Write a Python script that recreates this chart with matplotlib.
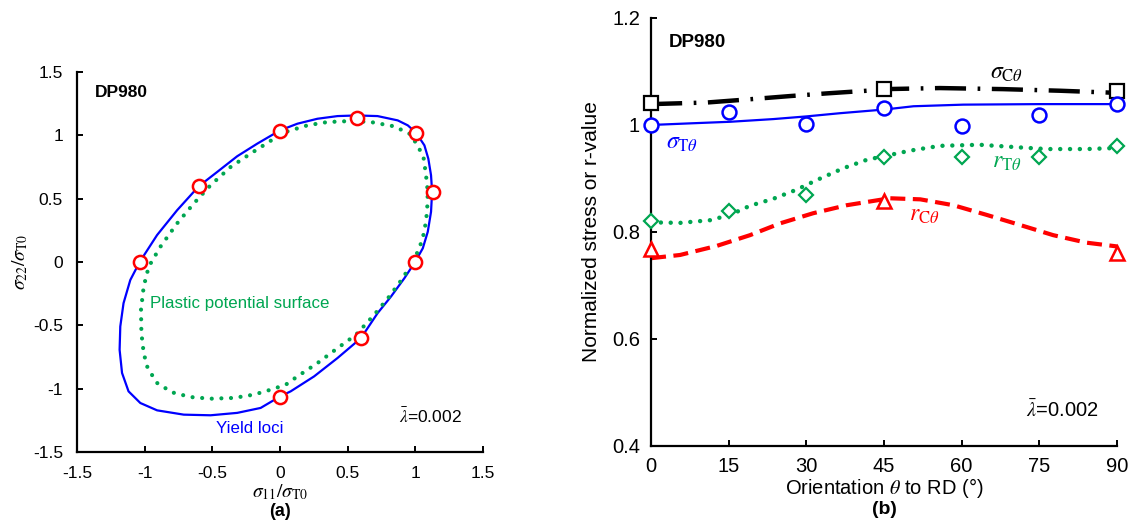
import numpy as np
import matplotlib
matplotlib.use("Agg")
import matplotlib.pyplot as plt

plt.rcParams['font.family'] = ['Liberation Sans', 'DejaVu Sans']
plt.rcParams['mathtext.fontset'] = 'stix'

# (a) yield locus and plastic potential in the s11-s22 plane
yield_s11 = [0.998, 1.055, 1.092, 1.116, 1.124, 1.116, 1.096, 1.067, 1.005, 0.944, 0.87, 0.721,
             0.568, 0.425, 0.277, 0.129, 0.0, -0.167, -0.316, -0.464, -0.6, -0.76, -0.908,
             -1.037, -1.106, -1.156, -1.18, -1.185, -1.167, -1.119, -1.032, -0.908, -0.711,
             -0.513, -0.316, -0.143, 0.0, 0.079, 0.252, 0.425, 0.598, 0.721, 0.82, 0.919, 0.998]
yield_s22 = [0.0, 0.108, 0.239, 0.396, 0.554, 0.685, 0.816, 0.921, 1.021, 1.079, 1.118, 1.152,
             1.157, 1.152, 1.131, 1.092, 1.039, 0.935, 0.835, 0.711, 0.598, 0.409, 0.213,
             0.0, -0.142, -0.325, -0.509, -0.693, -0.876, -1.021, -1.113, -1.171, -1.205,
             -1.21, -1.191, -1.152, -1.062, -1.021, -0.903, -0.758, -0.601, -0.404, -0.273,
             -0.128, 0.0]

pot_s11 = [0.981, 1.03, 1.067, 1.087, 1.092, 1.079, 1.062, 1.018, 0.956, 0.844, 0.672, 0.524,
           0.351, 0.203, 0.055, -0.044, -0.217, -0.365, -0.513, -0.637, -0.76, -0.884, -0.97,
           -1.007, -1.027, -1.024, -1.007, -0.978, -0.908, -0.797, -0.661, -0.513, -0.341,
           -0.193, -0.069, 0.042, 0.129, 0.277, 0.425, 0.561, 0.696, 0.807, 0.907, 0.981]
pot_s22 = [0.002, 0.108, 0.239, 0.396, 0.554, 0.685, 0.816, 0.921, 1.013, 1.071, 1.105, 1.113,
           1.105, 1.079, 1.031, 0.974, 0.856, 0.75, 0.606, 0.462, 0.305, 0.12, -0.037,
           -0.194, -0.378, -0.561, -0.719, -0.837, -0.955, -1.029, -1.066, -1.079, -1.073,
           -1.047, -1.008, -0.969, -0.903, -0.798, -0.68, -0.575, -0.417, -0.273, -0.128, 0.002]

exp_s11 = [-1.037, -0.6, 0.0, 0.566, 1.005, 1.128, 1.0, 0.6, 0.0]
exp_s22 = [0.0, 0.598, 1.037, 1.136, 1.018, 0.554, 0.0, -0.601, -1.063]

# (b) directional properties
theta_exp = [0, 15, 30, 45, 60, 75, 90]
sigT_exp = [1.0, 1.024, 1.001, 1.031, 0.998, 1.018, 1.040]
rT_exp = [0.820, 0.840, 0.870, 0.940, 0.940, 0.940, 0.960]
theta_c = [0, 45, 90]
sigC_exp = [1.041, 1.068, 1.063]
rC_exp = [0.768, 0.858, 0.760]

theta_sigT = [0, 7.5, 15.3, 23.6, 30, 36.5, 45.2, 50.7, 60.3, 75.1, 90]
sigT_fit = [1.0, 1.003, 1.006, 1.011, 1.016, 1.022, 1.029, 1.035, 1.038, 1.039, 1.039]
theta_sigC = [0, 10.8, 19, 26.8, 33.9, 41.7, 45, 55.8, 68, 79, 90]
sigC_fit = [1.039, 1.042, 1.048, 1.054, 1.059, 1.064, 1.067, 1.069, 1.067, 1.064, 1.06]
theta_rT = [0, 5.6, 11.4, 15.3, 19.1, 23.6, 28.1, 32, 37.1, 41.7, 45.2, 50, 55.8, 63.5,
            71.3, 76.4, 84.1, 90]
rT_fit = [0.818, 0.817, 0.822, 0.832, 0.849, 0.862, 0.879, 0.897, 0.919, 0.935, 0.942, 0.952,
          0.961, 0.963, 0.958, 0.955, 0.955, 0.957]
theta_rC = [0, 5.6, 12.7, 19.1, 24.9, 31.3, 37.8, 44.2, 46.2, 52, 58.4, 64.8, 71.3, 77.7,
            84.1, 90]
rC_fit = [0.751, 0.757, 0.774, 0.794, 0.816, 0.835, 0.850, 0.860, 0.863, 0.861, 0.850, 0.832,
          0.813, 0.794, 0.780, 0.773]

BLUE = '#0000ff'
GREEN = '#00a651'
RED = '#ff0000'

fig = plt.figure(figsize=(11.37, 5.21), dpi=100)
ax1 = fig.add_axes([0.0677, 0.1324, 0.3571, 0.7294])
ax2 = fig.add_axes([0.5726, 0.1440, 0.4098, 0.8215])

for ax in (ax1, ax2):
    for side in ('top', 'right'):
        ax.spines[side].set_visible(False)
    for side in ('left', 'bottom'):
        ax.spines[side].set_linewidth(1.6)
    ax.tick_params(direction='in', length=4, width=1.4)

ax1.tick_params(labelsize=12.5, pad=10)
ax2.tick_params(labelsize=14.5, pad=8)

# ---- (a) ----
ax1.plot(yield_s11, yield_s22, color=BLUE, lw=1.6, zorder=2)
ax1.plot(pot_s11, pot_s22, color=GREEN, lw=3.0, linestyle=(0, (0.01, 2.3)),
         dash_capstyle='round', zorder=3)
ax1.plot(exp_s11, exp_s22, 'o', ms=9.5, mfc='white', mec=RED, mew=1.8, zorder=4)
ax1.set_xlim(-1.5, 1.5)
ax1.set_ylim(-1.5, 1.5)
ax1.set_xticks([-1.5, -1, -0.5, 0, 0.5, 1, 1.5])
ax1.set_yticks([-1.5, -1, -0.5, 0, 0.5, 1, 1.5])
ax1.set_xticklabels(['-1.5', '-1', '-0.5', '0', '0.5', '1', '1.5'])
ax1.set_yticklabels(['-1.5', '-1', '-0.5', '0', '0.5', '1', '1.5'])
ax1.set_xlabel(r'$\sigma_{11}/\sigma_{\mathrm{T0}}$', fontsize=14, labelpad=1)
ax1.set_ylabel(r'$\sigma_{22}/\sigma_{\mathrm{T0}}$', fontsize=14, labelpad=2)
ax1.text(-1.365, 1.34, 'DP980', fontsize=12.5, fontweight='bold', va='center')
ax1.text(-0.963, -0.325, 'Plastic potential surface', fontsize=12.2, color=GREEN, va='center')
ax1.text(-0.476, -1.315, 'Yield loci', fontsize=12.2, color=BLUE, va='center')
ax1.text(0.879, -1.218, r'$\bar{\lambda}$=0.002', fontsize=12.5, va='center')
fig.text(0.2463, 0.018, '(a)', fontsize=13, fontweight='bold', ha='center', va='center')

# ---- (b) ----
ax2.plot(theta_sigC, sigC_fit, color='black', lw=3.2,
         linestyle=(0, (7, 2.6, 0.6, 2.6)), zorder=2)
ax2.plot(theta_sigT, sigT_fit, color=BLUE, lw=1.6, zorder=2)
ax2.plot(theta_rT, rT_fit, color=GREEN, lw=3.2, linestyle=(0, (0.01, 2.2)),
         dash_capstyle='round', zorder=2)
ax2.plot(theta_rC, rC_fit, color=RED, lw=3.0, linestyle=(0, (3.6, 1.8)), zorder=2)

ax2.plot(theta_c, sigC_exp, 's', ms=10, mfc='white', mec='black', mew=1.6, zorder=4,
         clip_on=False)
ax2.plot(theta_exp, sigT_exp, 'o', ms=10, mfc='white', mec=BLUE, mew=1.8, zorder=4,
         clip_on=False)
ax2.plot(theta_exp, rT_exp, 'D', ms=7.5, mfc='white', mec=GREEN, mew=1.6, zorder=4,
         clip_on=False)
ax2.plot(theta_c, rC_exp, '^', ms=10, mfc='white', mec=RED, mew=1.8, zorder=4,
         clip_on=False)

ax2.set_xlim(0, 90)
ax2.set_ylim(0.4, 1.2)
ax2.set_xticks(theta_exp)
ax2.set_yticks([0.4, 0.6, 0.8, 1.0, 1.2])
ax2.set_yticklabels(['0.4', '0.6', '0.8', '1', '1.2'])
ax2.set_xlabel(r'Orientation $\theta$ to RD (°)', fontsize=14.5, labelpad=0)
ax2.set_ylabel('Normalized stress or r-value', fontsize=15, labelpad=8)
ax2.text(3.5, 1.155, 'DP980', fontsize=13.5, fontweight='bold', va='center')
ax2.text(65.5, 1.097, r'$\sigma_{\mathrm{C}\theta}$', fontsize=17, va='center')
ax2.text(2.8, 0.966, r'$\sigma_{\mathrm{T}\theta}$', fontsize=17, color=BLUE, va='center')
ax2.text(65.8, 0.931, r'$r_{\mathrm{T}\theta}$', fontsize=17, color=GREEN, va='center')
ax2.text(49.8, 0.832, r'$r_{\mathrm{C}\theta}$', fontsize=17, color=RED, va='center')
ax2.text(72.4, 0.467, r'$\bar{\lambda}$=0.002', fontsize=14.5, va='center')
fig.text(0.7775, 0.022, '(b)', fontsize=14, fontweight='bold', ha='center', va='center')

fig.savefig('out.png', dpi=100)
